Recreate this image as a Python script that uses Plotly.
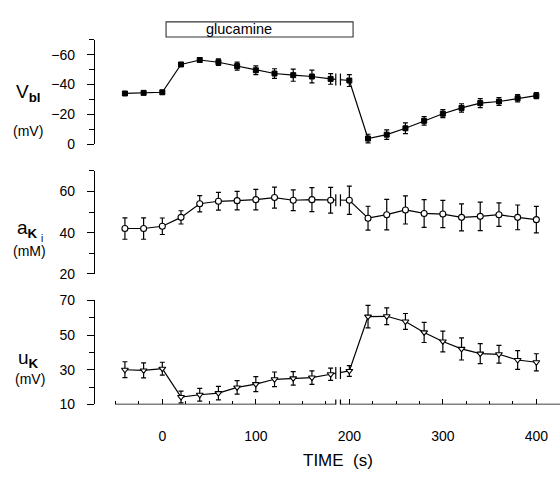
import plotly.graph_objects as go
import numpy as np

# ---------------- data ----------------
time_s = [-40, -20, 0, 20, 40, 60, 80, 100, 120, 140, 160, 180,
          200, 220, 240, 260, 280, 300, 320, 340, 360, 380, 400]

vbl = [-34.0, -34.4, -34.8, -53.5, -56.5, -55.0, -52.4, -49.6, -47.4, -46.3, -45.4, -43.8,
       -42.7, -3.7, -6.3, -10.6, -15.6, -20.4, -24.3, -27.5, -28.6, -30.8, -32.5]
vbl_err = [1.0, 1.0, 1.0, 1.2, 1.6, 2.2, 2.7, 3.0, 3.2, 4.1, 4.3, 3.6,
           4.0, 2.9, 3.2, 3.6, 2.9, 2.7, 2.8, 3.0, 2.7, 2.4, 2.0]

aki = [42.0, 42.0, 43.1, 47.4, 54.0, 55.2, 55.5, 56.0, 57.0, 55.7, 56.0, 55.7,
       55.7, 47.0, 48.7, 51.0, 49.3, 49.0, 47.4, 47.9, 48.7, 47.4, 46.3]
aki_err = [5.2, 5.2, 4.0, 3.2, 3.9, 4.3, 4.5, 5.0, 5.1, 5.0, 5.8, 6.2,
           6.8, 5.8, 7.4, 6.8, 6.7, 6.6, 6.5, 6.9, 5.7, 6.0, 6.4]

uk = [30.0, 29.6, 30.6, 14.3, 15.6, 16.5, 19.8, 21.7, 24.5, 25.0, 25.5, 27.4,
      29.3, 60.6, 60.8, 57.8, 51.5, 46.3, 42.0, 39.3, 38.9, 35.6, 34.3]
uk_err = [4.6, 4.3, 3.7, 3.4, 3.7, 3.9, 3.9, 4.3, 4.2, 3.9, 3.9, 3.5,
          3.1, 6.5, 4.8, 4.6, 5.8, 6.0, 6.4, 5.8, 5.1, 5.4, 4.9]

x_tickvals = [0, 100, 200, 300, 400]
x_minor = [-50, -25, 25, 50, 75, 125, 150, 175, 225, 250, 275, 325, 350, 375]
break_t = (185.5, 190.5)
glucamine = (4, 204)

# ---------------- layout helpers ----------------
W, H = 560, 484
ML = 95
XR = [-72.0, 425.3]
FONT = "Liberation Sans, Arial, sans-serif"

def py(p):  # pixel y -> paper y
    return 1 - p / H

def px(p):  # pixel x -> paper x
    return (p - ML) / (W - ML)

fig = go.Figure()

panels = [
    (vbl, vbl_err, dict(symbol="square", size=5, color="black", line=dict(color="black", width=1))),
    (aki, aki_err, dict(symbol="circle", size=6, color="white", line=dict(color="black", width=1.1))),
    (uk, uk_err, dict(symbol="triangle-down", size=6, color="white", line=dict(color="black", width=1.1))),
]
for i, (vals, err, mk) in enumerate(panels):
    fig.add_trace(go.Scatter(
        x=time_s, y=vals, mode="lines+markers",
        line=dict(color="black", width=1.2), marker=mk,
        error_y=dict(type="data", array=err, color="black", thickness=1.2, width=2.5),
        xaxis="x" if i == 0 else f"x{i+1}", yaxis="y" if i == 0 else f"y{i+1}",
        showlegend=False, cliponaxis=False))

ydoms = [[py(140.7), py(33.0)], [py(275.0), py(168.3)], [py(410.0), py(302.3)]]
yranges = [[0, -70], [20, 70], [10, 70]]
ytickvals = [[-60, -40, -20, 0], [20, 40, 60], [10, 30, 50, 70]]
yminor = [[-70, -50, -30, -10], [30, 50, 70], [20, 40, 60]]

for i in range(3):
    sx = "" if i == 0 else str(i + 1)
    fig.layout[f"xaxis{sx}"] = dict(domain=[0, 1], range=XR, anchor=f"y{sx}",
                                    showgrid=False, zeroline=False, showline=False,
                                    showticklabels=False, ticks="")
    fig.layout[f"yaxis{sx}"] = dict(domain=ydoms[i], range=yranges[i], anchor=f"x{sx}",
                                    showgrid=False, zeroline=False, showline=True,
                                    linecolor="black", linewidth=1.3,
                                    tickmode="array", tickvals=ytickvals[i],
                                    ticks="outside", ticklen=7, tickwidth=1.2, tickcolor="black",
                                    ticklabelstandoff=9,
                                    minor=dict(tickvals=yminor[i], ticks="outside", ticklen=5,
                                               tickwidth=1.2, tickcolor="black"),
                                    tickfont=dict(family=FONT, size=14, color="black"))

# bottom x axis ticks & labels
fig.layout.xaxis3.update(showticklabels=True, tickmode="array", tickvals=x_tickvals,
                         ticks="inside", ticklen=5, tickwidth=1.2, tickcolor="black",
                         ticklabelstandoff=22,
                         minor=dict(tickvals=x_minor, ticks="inside", ticklen=3,
                                    tickwidth=1.1, tickcolor="black"),
                         tickfont=dict(family=FONT, size=14, color="black"))

shapes = []
# x axis line (broken)
for a, b in [(-50.6, break_t[0]), (break_t[1], XR[1])]:
    shapes.append(dict(type="line", xref="x3", yref="y3", x0=a, x1=b, y0=10, y1=10,
                       line=dict(color="black", width=1.3), layer="above"))
for bt in break_t:
    shapes.append(dict(type="line", xref="x3", yref="y3", x0=bt, x1=bt,
                       ysizemode="pixel", yanchor=10, y0=-7, y1=5,
                       line=dict(color="black", width=1.2), layer="above"))

# break marks on data lines
i180, i200 = time_s.index(180), time_s.index(200)
for i, (vals, _, _) in enumerate(panels):
    sx = "" if i == 0 else str(i + 1)
    ymid = float(np.interp(np.mean(break_t), [time_s[i180], time_s[i200]], [vals[i180], vals[i200]]))
    shapes.append(dict(type="rect", xref=f"x{sx}", yref=f"y{sx}", x0=break_t[0], x1=break_t[1],
                       ysizemode="pixel", yanchor=ymid, y0=-4, y1=4,
                       fillcolor="white", line=dict(width=0), layer="above"))
    for bt in break_t:
        shapes.append(dict(type="line", xref=f"x{sx}", yref=f"y{sx}", x0=bt, x1=bt,
                           ysizemode="pixel", yanchor=ymid, y0=-6, y1=6,
                           line=dict(color="black", width=1.2), layer="above"))

# glucamine box
shapes.append(dict(type="rect", xref="x", yref="paper", x0=glucamine[0], x1=glucamine[1],
                   y0=py(30.0), y1=py(14.3), line=dict(color="#333", width=1.1),
                   fillcolor="white"))
fig.update_layout(shapes=shapes)

ann = []
ann.append(dict(x=82, xref="x", y=py(22), yref="paper", text="glucamine", showarrow=False,
                font=dict(family=FONT, size=14.5, color="black"), xanchor="center", yanchor="middle"))

def lab(text, xl, yc, size):
    ann.append(dict(x=px(xl), xref="paper", y=py(yc), yref="paper", text=text, showarrow=False,
                    xanchor="left", yanchor="middle", font=dict(family=FONT, size=size, color="black")))

lab("V<sub><b>bl</b></sub>", 14, 88, 19)
lab("(mV)", 11, 127, 14)
lab("a<sub><b>K</b></sub>", 15, 229, 19)
lab("i", 38.5, 238, 10)
lab("(mM)", 11, 251, 14)
lab("u<sub><b>K</b></sub>", 16, 363, 19)
lab("(mV)", 13, 384, 14)
ann.append(dict(x=px(338), xref="paper", y=py(468), yref="paper", text="TIME\u00a0\u00a0(s)",
                showarrow=False, xanchor="center", yanchor="middle",
                font=dict(family=FONT, size=17, color="black")))
fig.update_layout(annotations=ann)

fig.update_layout(width=W, height=H, margin=dict(l=ML, r=0, t=0, b=0),
                  paper_bgcolor="white", plot_bgcolor="white")

fig.write_html("out.html")
